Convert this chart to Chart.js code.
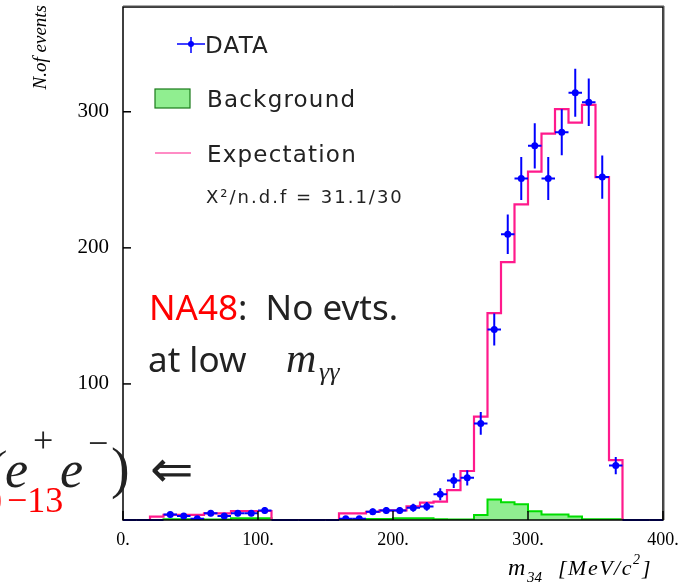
<!DOCTYPE html>
<html><head><meta charset="utf-8">
<script src="https://cdn.jsdelivr.net/npm/chart.js@4.4.0/dist/chart.umd.min.js"></script>
<style>html,body{margin:0;padding:0;background:#fff;overflow:hidden}</style>
</head><body>
<canvas id="c" width="698" height="585"></canvas>
<script>
// ---- data (10 MeV/c^2 bins, lower edges) ----
const binLow = [0,10,20,30,40,50,60,70,80,90,100,110,120,130,140,150,160,170,180,190,
                200,210,220,230,240,250,260,270,280,290,300,310,320,330,340,350,360,370,380,390];
const binUpper = 400;
const dataCounts = [0,0,0,4,3,1,5,3,5,5,7,0,0,0,0,0,1,1,6,7,
                    7,9,10,19,29,31,71,140,210,251,275,251,285,314,307,252,40,0,0,0];
const dataErrors = [0,0,0,2,1.7,1,2.2,1.7,2.2,2.2,2.6,0,0,0,0,0,1,1,2.4,2.6,
                    2.6,3,3.2,4.4,5.4,5.6,8.4,11.8,14.5,15.8,16.6,15.8,16.9,17.7,17.5,15.9,6.3,0,0,0];
const expectation = [0,0,2.5,3.7,3.7,3.7,4.9,4.9,6.6,6.6,6.6,0,0,0,0,0,4.9,4.9,6,7,
                     7,10,12.7,13.5,22,36,76,152,189.5,232,256,284,302,292,305,252,44,0,0,0];
const background = [0,0,0,0.5,0.5,0.5,0.3,0.3,1.3,1.3,1.3,0,0,0,0,0,0.3,0.3,0.8,0.8,
                    1.3,1.3,1.3,0.5,0.3,0.3,3.7,15,13,11.5,6.5,4,4,2.5,0.5,0.5,0.5,0,0,0];
const xTicks = [0,100,200,300,400];
const yTicks = [100,200,300];

const histPoints = vals => binLow.map((x,i)=>({x:x,y:vals[i]})).concat([{x:binUpper,y:vals[vals.length-1]}]);
const dataPoints = binLow.map((x,i)=>({x:x+5,y:dataCounts[i]}));

const BLUE='#0000ff', PINK='#ff1a8c', GREEN='#00dd00', LGREEN='#90ee90';
const SERIF='"Liberation Serif", "Times New Roman", serif';
const SANS='"DejaVu Sans", sans-serif';

const overlay = {
  id:'overlay',
  afterDatasetsDraw(chart){
    const {ctx, chartArea:a, scales:{x, y}} = chart;
    ctx.save();
    ctx.beginPath(); ctx.rect(a.left, a.top, a.right-a.left, a.bottom-a.top+2); ctx.clip();
    ctx.strokeStyle = BLUE; ctx.lineWidth = 2;
    binLow.forEach((lo,i)=>{
      const v = dataCounts[i], e = dataErrors[i];
      const py = y.getPixelForValue(v);
      ctx.beginPath();
      ctx.moveTo(x.getPixelForValue(lo), py);
      ctx.lineTo(x.getPixelForValue(lo+10), py);
      if (e>0){
        const cx = x.getPixelForValue(lo+5);
        ctx.moveTo(cx, y.getPixelForValue(v-e));
        ctx.lineTo(cx, y.getPixelForValue(v+e));
      }
      ctx.stroke();
    });
    ctx.restore();
  },
  afterDraw(chart){
    const {ctx, chartArea:a, scales:{x, y}} = chart;
    ctx.save();
    // frame
    ctx.strokeStyle='#000'; ctx.lineWidth=1.5;
    ctx.strokeRect(a.left, a.top, a.right-a.left, a.bottom-a.top);
    ctx.strokeStyle='#555'; ctx.lineWidth=1;
    ctx.beginPath(); ctx.moveTo(a.left, a.top-1); ctx.lineTo(a.right+1, a.top-1); ctx.lineTo(a.right+1, a.bottom); ctx.stroke();
    // inside ticks
    ctx.strokeStyle='#000'; ctx.lineWidth=1.5;
    xTicks.forEach(t=>{const px=x.getPixelForValue(t); ctx.beginPath(); ctx.moveTo(px,a.bottom); ctx.lineTo(px,a.bottom-9); ctx.stroke();});
    yTicks.forEach(t=>{const py=y.getPixelForValue(t); ctx.beginPath(); ctx.moveTo(a.left,py); ctx.lineTo(a.left+8,py); ctx.stroke();});

    // legend
    ctx.strokeStyle=BLUE; ctx.lineWidth=1.5;
    ctx.beginPath(); ctx.moveTo(177,44); ctx.lineTo(205,44); ctx.moveTo(191,37); ctx.lineTo(191,53); ctx.stroke();
    ctx.fillStyle=BLUE; ctx.beginPath(); ctx.arc(191,44,3,0,2*Math.PI); ctx.fill();
    ctx.fillStyle=LGREEN; ctx.fillRect(155,89,35,19);
    ctx.strokeStyle='#1a7a1a'; ctx.lineWidth=1.2; ctx.strokeRect(155,89,35,19);
    ctx.strokeStyle=PINK; ctx.lineWidth=1.2;
    ctx.beginPath(); ctx.moveTo(155,153); ctx.lineTo(191,153); ctx.stroke();
    ctx.fillStyle='#222'; ctx.textBaseline='alphabetic'; ctx.textAlign='left';
    ctx.font='23px '+SANS; ctx.letterSpacing='1.2px';
    ctx.fillText('DATA',205,53);
    ctx.fillText('Background',207,107);
    ctx.fillText('Expectation',207,162);
    ctx.font='18px '+SANS; ctx.letterSpacing='2px';
    ctx.fillText('X\u00b2/n.d.f = 31.1/30',206,203);
    ctx.letterSpacing='0px';

    // NA48 annotation
    ctx.font='35px "Noto Sans", sans-serif';
    ctx.fillStyle='#ff0000'; ctx.fillText('NA48',149,320);
    let w = ctx.measureText('NA48').width;
    ctx.fillStyle='#222'; ctx.fillText(':  No evts.',149+w,320);
    ctx.fillText('at low',148,372);
    ctx.font='italic 42px '+SERIF; ctx.fillText('m',286,372);
    ctx.font='italic 26px '+SERIF; ctx.fillText('\u03b3\u03b3',319,380);

    // cut-off formula on the left
    ctx.fillStyle='#222';
    ctx.font='italic 52px '+SERIF;
    ctx.fillText('(',-14,487);
    ctx.fillText('e',5,487);
    ctx.fillText('e',60,487);
    ctx.font='36px '+SERIF;
    ctx.fillText('+',33,452);
    ctx.fillText('\u2212',88,455);
    ctx.font='56px '+SERIF;
    ctx.fillText(')',111,487);
    ctx.font='52px '+SERIF;
    ctx.fillText('\u21d0',150,487);
    ctx.fillStyle='#ff0000';
    ctx.font='36px '+SERIF;
    ctx.fillText('0',-16,513);
    ctx.fillText('\u221213',7,512);

    // axis titles
    ctx.fillStyle='#000';
    ctx.save(); ctx.translate(46,5); ctx.rotate(-Math.PI/2);
    ctx.textAlign='right'; ctx.font='italic 19px '+SERIF; ctx.fillText('N.of events',0,0);
    ctx.restore();
    ctx.textAlign='left';
    ctx.font='italic 24px '+SERIF; ctx.fillText('m',508,575);
    ctx.font='italic 15px '+SERIF; ctx.fillText('34',527,582);
    ctx.letterSpacing='1.5px';
    ctx.font='italic 22px '+SERIF; ctx.fillText('[MeV/c',558,575);
    let w2 = ctx.measureText('[MeV/c').width;
    ctx.font='italic 14px '+SERIF; ctx.fillText('2',558+w2,564);
    ctx.font='italic 22px '+SERIF; ctx.fillText(']',558+w2+9,575);
    ctx.letterSpacing='0px';
    ctx.restore();
  }
};

new Chart(document.getElementById('c'), {
  type:'line',
  data:{datasets:[
    {label:'DATA', data:dataPoints, showLine:false, order:0,
     pointRadius:dataCounts.map(v=>v>0?3.5:0), pointBackgroundColor:BLUE, pointBorderColor:BLUE, pointBorderWidth:0},
    {label:'Expectation', data:histPoints(expectation), stepped:true, order:1,
     borderColor:PINK, borderWidth:2.2, pointRadius:0, fill:false},
    {label:'Background', data:histPoints(background), stepped:true, order:2,
     borderColor:GREEN, borderWidth:2, pointRadius:0, backgroundColor:LGREEN, fill:'origin'}
  ]},
  options:{
    responsive:false, animation:false, devicePixelRatio:1,
    layout:{padding:{top:7,right:35,left:0,bottom:0}},
    plugins:{legend:{display:false}, tooltip:{enabled:false}},
    scales:{
      x:{type:'linear', min:0, max:400,
         grid:{display:false, drawTicks:false}, border:{display:false},
         ticks:{stepSize:100, includeBounds:false, padding:9, maxRotation:0, autoSkip:false, color:'#000',
                font:{family:'Liberation Serif', size:18}, callback:v=>v+'.'},
         afterFit:s=>{s.height=65; s.paddingLeft=0; s.paddingRight=0;}},
      y:{min:0, max:377,
         grid:{display:false, drawTicks:false}, border:{display:false},
         ticks:{stepSize:100, includeBounds:false, padding:14, color:'#000',
                font:{family:'Liberation Serif', size:21}, callback:v=>v===0?'':v},
         afterFit:s=>{s.width=123; s.paddingTop=0; s.paddingBottom=0;}}
    }
  },
  plugins:[overlay]
});
</script>
</body></html>
